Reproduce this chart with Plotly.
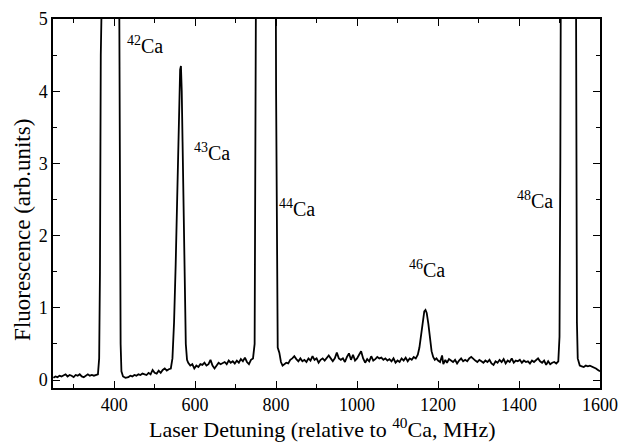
import plotly.graph_objects as go

# Laser detuning (MHz) and fluorescence (arb. units)
detuning = [
    250, 255, 260, 265, 270, 275, 280, 285, 290, 295, 300, 305, 310, 315, 320, 325, 330, 335, 340, 345, 350, 355, 360,
    363, 365, 367, 370, 390, 410, 412, 414, 416, 418, 422,
    428, 435, 440, 445, 450, 455, 460, 465, 470, 475, 480, 485, 490, 495, 500, 505, 510, 515, 520, 525, 530, 535, 540,
    544, 548, 552, 556, 560, 563, 565, 567, 569, 572, 575, 577, 580,
    583, 588, 593, 598, 603, 608, 613, 618, 623, 628, 633, 638, 643, 648, 653, 658, 663, 668, 673, 678, 683, 688, 693,
    698, 703, 708, 713, 718, 723, 728, 733, 738, 743,
    747, 749, 752, 775, 798, 800, 802, 804, 808, 812, 816,
    820, 825, 830, 835, 840, 845, 850, 855, 860, 865, 870, 875, 880, 885, 890, 895, 900, 905, 910, 915, 920, 925, 930,
    935, 940, 945, 950, 955, 960, 965, 970, 975, 980, 985, 990, 995, 1000, 1005, 1010, 1015, 1020, 1025, 1030, 1035,
    1040, 1045, 1050, 1055, 1060, 1065, 1070, 1075, 1080, 1085, 1090, 1095, 1100, 1105, 1110, 1115, 1120, 1125, 1130,
    1135, 1140, 1145, 1150,
    1154, 1158, 1162, 1166, 1169, 1172, 1176, 1180, 1184, 1188, 1192, 1196,
    1200, 1205, 1210, 1213, 1218, 1222, 1227, 1232, 1237, 1242, 1247, 1252, 1257, 1262, 1267, 1272, 1277, 1282, 1287,
    1292, 1297, 1302, 1307, 1312, 1317, 1322, 1327, 1332, 1337, 1342, 1347, 1352, 1357, 1362, 1367, 1372, 1377, 1382,
    1387, 1392, 1397, 1402, 1407, 1412, 1417, 1422, 1427, 1432, 1437, 1442, 1447, 1452, 1457, 1462, 1467, 1472, 1477,
    1482, 1487, 1492, 1497,
    1500, 1502, 1505, 1522, 1539, 1541, 1543, 1545,
    1550, 1555, 1560, 1565, 1570, 1575, 1580, 1585, 1590, 1595, 1600,
]
fluorescence = [
    0.03, 0.05, 0.04, 0.06, 0.05, 0.07, 0.08, 0.05, 0.07, 0.06, 0.04, 0.07, 0.06, 0.08, 0.05, 0.04, 0.06, 0.08, 0.06, 0.07, 0.06, 0.07, 0.08,
    0.3, 1.5, 4.5, 9, 12, 9, 5, 2, 0.5, 0.12, 0.05,
    0.03, 0.04, 0.06, 0.05, 0.07, 0.06, 0.08, 0.07, 0.09, 0.08, 0.07, 0.1, 0.08, 0.14, 0.1, 0.09, 0.13, 0.1, 0.14, 0.16, 0.13, 0.15, 0.16,
    0.3, 0.8, 1.6, 2.6, 3.6, 4.3, 4.35, 4.0, 3.3, 2.3, 1.2, 0.5, 0.28,
    0.24, 0.2, 0.22, 0.16, 0.2, 0.18, 0.22, 0.21, 0.24, 0.2, 0.22, 0.28, 0.2, 0.16, 0.2, 0.24, 0.22, 0.23, 0.25, 0.22, 0.27, 0.24, 0.26,
    0.23, 0.27, 0.24, 0.29, 0.26, 0.31, 0.25, 0.22, 0.28, 0.3,
    0.5, 3, 8, 12, 8, 4, 1.5, 0.45, 0.38, 0.25, 0.2,
    0.22, 0.24, 0.23, 0.28, 0.3, 0.33, 0.29, 0.26, 0.3, 0.26, 0.28, 0.25, 0.3, 0.27, 0.33, 0.28, 0.3, 0.24, 0.28, 0.3, 0.27, 0.3, 0.34,
    0.3, 0.26, 0.3, 0.38, 0.3, 0.28, 0.3, 0.25, 0.32, 0.37, 0.28, 0.35, 0.27, 0.3, 0.35, 0.4, 0.3, 0.24, 0.29, 0.26, 0.33,
    0.27, 0.29, 0.32, 0.3, 0.31, 0.28, 0.3, 0.27, 0.29, 0.26, 0.3, 0.24, 0.27, 0.25, 0.3, 0.27, 0.31, 0.26, 0.3,
    0.28, 0.32, 0.3, 0.35,
    0.45, 0.62, 0.82, 0.95, 0.97, 0.93, 0.78, 0.56, 0.4, 0.32, 0.28, 0.3,
    0.27, 0.25, 0.34, 0.22, 0.28, 0.24, 0.29, 0.27, 0.25, 0.28, 0.23, 0.27, 0.3, 0.26, 0.28, 0.26, 0.3, 0.32, 0.29,
    0.27, 0.25, 0.28, 0.26, 0.24, 0.27, 0.25, 0.28, 0.23, 0.21, 0.26, 0.24, 0.28, 0.25, 0.29, 0.23, 0.27, 0.25, 0.3,
    0.24, 0.27, 0.26, 0.28, 0.24, 0.27, 0.25, 0.26, 0.23, 0.27, 0.25, 0.28, 0.3, 0.26, 0.24, 0.27, 0.21, 0.26, 0.22,
    0.24, 0.25, 0.23, 0.26,
    0.6, 3, 9, 12, 9, 3, 0.8, 0.3,
    0.2, 0.19, 0.18, 0.2, 0.19, 0.2, 0.19, 0.17, 0.16, 0.14, 0.12,
]

# Isotope labels
iso_mass = ["42", "43", "44", "46", "48"]
iso_x = [426, 593, 803, 1123, 1391]
iso_y = [4.64, 3.16, 2.38, 1.54, 2.49]

x_title = "Laser Detuning (relative to <sup>40</sup>Ca, MHz)"
y_title = "Fluorescence (arb.units)"

SERIF = "Liberation Serif, Times New Roman, serif"

fig = go.Figure()
fig.add_trace(go.Scatter(x=detuning, y=fluorescence, mode="lines",
                         line=dict(color="black", width=1.8), showlegend=False))

for m, xx, yy in zip(iso_mass, iso_x, iso_y):
    fig.add_annotation(x=xx, y=yy, text=f"<sup>{m}</sup>Ca", showarrow=False,
                       xanchor="left", yanchor="middle",
                       font=dict(family=SERIF, size=20, color="black"))

# axis titles
fig.add_annotation(x=0.493, y=-0.108, xref="paper", yref="paper", text=x_title,
                   showarrow=False, xanchor="center", yanchor="middle",
                   font=dict(family=SERIF, size=22, color="black"))
fig.add_annotation(x=-0.057, y=0.428, xref="paper", yref="paper", text=y_title,
                   showarrow=False, xanchor="center", yanchor="middle", textangle=-90,
                   font=dict(family=SERIF, size=23, color="black"))

axis_common = dict(showline=True, linecolor="black", linewidth=1.5, mirror="allticks",
                   ticks="inside", ticklen=7, tickwidth=1.3, tickcolor="black",
                   showgrid=False, zeroline=False, automargin=False,
                   tickfont=dict(family=SERIF, size=18, color="black"))

fig.update_xaxes(range=[249, 1600], dtick=200, tick0=0,
                 minor=dict(dtick=100, ticks="inside", ticklen=4, tickcolor="black", showgrid=False),
                 **axis_common)
fig.update_yaxes(range=[-0.11, 5], dtick=1, tick0=0,
                 minor=dict(dtick=0.5, ticks="inside", ticklen=4, tickcolor="black", showgrid=False),
                 **axis_common)

fig.update_layout(width=619, height=443, margin=dict(l=53, r=19, t=19, b=55),
                  paper_bgcolor="white", plot_bgcolor="white",
                  font=dict(family=SERIF, color="black"))

fig.write_html("out.html")
